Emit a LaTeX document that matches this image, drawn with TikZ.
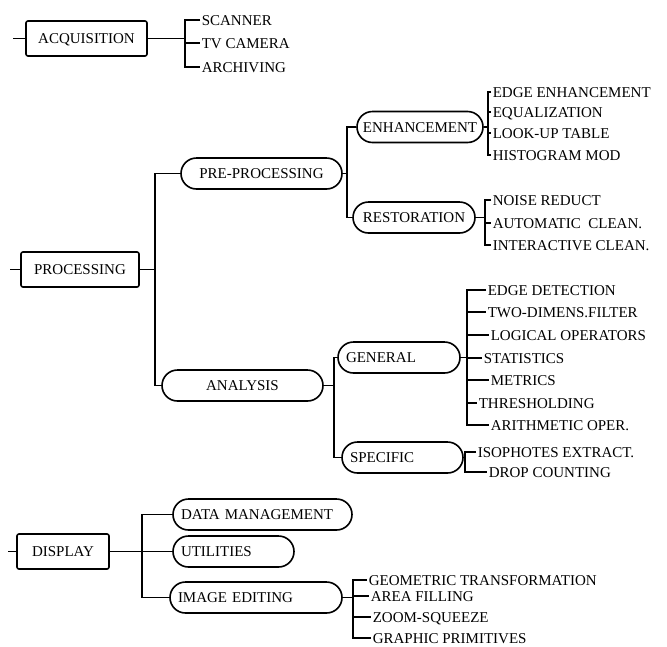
\documentclass[tikz,border=0pt]{standalone}
\usepackage{fontspec}
\setmainfont{Liberation Serif}
\begin{document}
\begin{tikzpicture}[x=1pt, y=-1pt, line width=1.6pt,
    every node/.style={font=\fontsize{15}{18}\selectfont, text height=10pt, text depth=0pt},
    box/.style={draw, rounded corners=2pt, minimum height=35pt},
    pill/.style={draw, rounded corners=15.5pt, minimum height=31pt, inner xsep=8pt},
    leaf/.style={anchor=west, inner xsep=1pt, inner ysep=0pt}]

    \useasboundingbox (0,0) rectangle (667,646);

    % Acquisition
    \node[box, minimum width=121pt] (acq) at (86.5,38.5) {ACQUISITION};
    \node[leaf] (scanner) at (200,20) {SCANNER};
    \node[leaf] (tvcam) at (200,43) {TV CAMERA};
    \node[leaf] (archiv) at (200,67) {ARCHIVING};
    \coordinate (acqIn) at (13,38.5);
    \coordinate (jAcq) at (185,38.5);

    % Processing
    \node[box, minimum width=118pt] (proc) at (80,269.5) {PROCESSING};
    \node[pill, minimum width=161pt] (pre) at (261.5,173.5) {PRE-PROCESSING};
    \node[pill, minimum width=161pt] (ana) at (242.5,385.5) {ANALYSIS};
    \node[pill, minimum width=126pt, inner xsep=5pt] (enh) at (420,127) {ENHANCEMENT};
    \node[pill, minimum width=122pt, inner xsep=5pt] (rest) at (414,217.5) {RESTORATION};
    \node[pill, text width=106pt, align=left] (gen) at (399,357.5) {GENERAL};
    \node[pill, text width=105pt, align=left] (spec) at (402.5,457.5) {SPECIFIC};
    \coordinate (procIn) at (10,269.5);
    \coordinate (jProc) at (155,269.5);
    \coordinate (jPre) at (347,173.5);
    \coordinate (jAna) at (334,385.5);

    % Enhancement and restoration leaves
    \node[leaf] (edgeenh) at (491,92) {EDGE ENHANCEMENT};
    \node[leaf] (equal) at (491,112) {EQUALIZATION};
    \node[leaf] (lookup) at (491,133) {LOOK-UP TABLE};
    \node[leaf] (histo) at (491,155) {HISTOGRAM MOD};
    \node[leaf] (noise) at (491,200) {NOISE REDUCT};
    \node[leaf] (autoc) at (491,223) {AUTOMATIC\ \ CLEAN.};
    \node[leaf] (interc) at (491,245) {INTERACTIVE CLEAN.};
    \coordinate (jEnh) at (488,127);
    \coordinate (jRest) at (485,217.5);

    % General and specific leaves
    \node[leaf] (edgedet) at (486,290) {EDGE DETECTION};
    \node[leaf] (twodim) at (486,312) {TWO-DIMENS.FILTER};
    \node[leaf] (logic) at (489,335) {LOGICAL OPERATORS};
    \node[leaf] (stats) at (482,358) {STATISTICS};
    \node[leaf] (metric) at (489,380) {METRICS};
    \node[leaf] (thresh) at (477,403) {THRESHOLDING};
    \node[leaf] (arith) at (489,425) {ARITHMETIC OPER.};
    \node[leaf] (iso) at (476,452) {ISOPHOTES EXTRACT.};
    \node[leaf] (drop) at (487,472) {DROP COUNTING};
    \coordinate (jGen) at (467,357.5);
    \coordinate (jSpec) at (465,457.5);

    % Display
    \node[box, minimum width=92pt] (disp) at (63,551.5) {DISPLAY};
    \node[pill, text width=163pt, align=left] (datam) at (262.5,514.5) {DATA MANAGEMENT};
    \node[pill, text width=105pt, align=left] (util) at (233.5,551.5) {UTILITIES};
    \node[pill, text width=156pt, align=left] (imged) at (256,597.5) {IMAGE EDITING};
    \node[leaf] (geom) at (367,580) {GEOMETRIC TRANSFORMATION};
    \node[leaf] (area) at (369,596) {AREA FILLING};
    \node[leaf] (zoomsq) at (371,617) {ZOOM-SQUEEZE};
    \node[leaf] (graphic) at (371,638) {GRAPHIC PRIMITIVES};
    \coordinate (dispIn) at (8,551.5);
    \coordinate (jDisp) at (142,551.5);
    \coordinate (jImg) at (353,597.5);

    % Edges
    \draw (acqIn) -- (acq);
    \draw (acq) -- (jAcq);
    \draw (scanner.west) -| (jAcq) |- (archiv.west);
    \draw (jAcq |- tvcam) -- (tvcam.west);

    \draw (procIn) -- (proc);
    \draw (proc) -- (jProc);
    \draw (pre.west) -| (jProc) |- (ana.west);
    \draw (pre) -- (jPre);
    \draw (enh.west) -| (jPre) |- (rest.west);
    \draw (ana) -- (jAna);
    \draw (gen.west) -| (jAna) |- (spec.west);

    \draw (enh) -- (jEnh);
    \draw (edgeenh.west) -| (jEnh) |- (histo.west);
    \draw (jEnh |- equal) -- (equal.west);
    \draw (jEnh |- lookup) -- (lookup.west);
    \draw (rest) -- (jRest);
    \draw (noise.west) -| (jRest) |- (interc.west);
    \draw (jRest |- autoc) -- (autoc.west);

    \draw (gen) -- (jGen);
    \draw (edgedet.west) -| (jGen) |- (arith.west);
    \draw (jGen |- twodim) -- (twodim.west);
    \draw (jGen |- logic) -- (logic.west);
    \draw (jGen |- stats) -- (stats.west);
    \draw (jGen |- metric) -- (metric.west);
    \draw (jGen |- thresh) -- (thresh.west);
    \draw (spec) -- (jSpec);
    \draw (iso.west) -| (jSpec) |- (drop.west);

    \draw (dispIn) -- (disp);
    \draw (disp) -- (util);
    \draw (datam.west) -| (jDisp) |- (imged.west);
    \draw (imged) -- (jImg);
    \draw (geom.west) -| (jImg) |- (graphic.west);
    \draw (jImg |- area) -- (area.west);
    \draw (jImg |- zoomsq) -- (zoomsq.west);

\end{tikzpicture}
\end{document}
